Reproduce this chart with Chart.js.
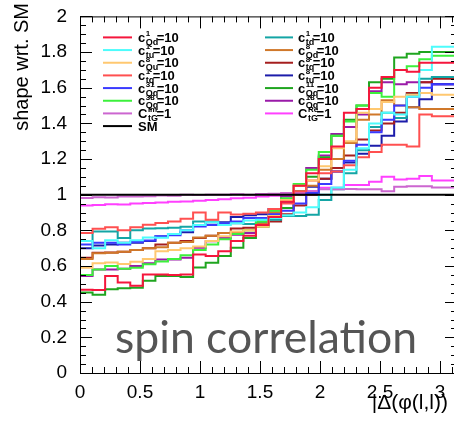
<!DOCTYPE html>
<html>
<head>
<meta charset="utf-8">
<script src="https://cdn.jsdelivr.net/npm/chart.js@4.4.0/dist/chart.umd.min.js"></script>
<style>
  html, body { margin: 0; padding: 0; background: #fff; overflow: hidden; }
</style>
</head>
<body>
<canvas id="chart" width="462" height="426"></canvas>
<script>
// 30 bins in |delta phi(l,l)| from 0 to pi
const nBins = 30;
const phiEdges = Array.from({ length: nBins + 1 }, (_, i) => i * Math.PI / nBins);

const xTickValues = [0, 0.5, 1, 1.5, 2, 2.5, 3];
const yTickValues = [0, 0.2, 0.4, 0.6, 0.8, 1, 1.2, 1.4, 1.6, 1.8, 2];

// ratio to SM, read bin by bin off the plot
const c1Qd = [0.48, 0.467, 0.465, 0.544, 0.507, 0.489, 0.552, 0.552, 0.55, 0.553, 0.665, 0.656, 0.683, 0.74, 0.77, 0.83, 0.875, 0.96, 1.05, 1.12, 1.2, 1.27, 1.46, 1.48, 1.6, 1.66, 1.7, 1.69, 1.74, 1.74];
const c1tu = [0.763, 0.74, 0.70, 0.745, 0.73, 0.745, 0.76, 0.758, 0.78, 0.8, 0.83, 0.845, 0.83, 0.84, 0.855, 0.86, 0.87, 0.885, 0.9, 0.93, 1.0, 1.04, 1.14, 1.26, 1.4, 1.46, 1.45, 1.55, 1.7, 1.83];
const c8Qu = [0.594, 0.59, 0.615, 0.62, 0.612, 0.624, 0.64, 0.683, 0.69, 0.7, 0.71, 0.74, 0.767, 0.794, 0.80, 0.82, 0.88, 0.97, 1.05, 1.08, 1.16, 1.26, 1.30, 1.46, 1.48, 1.52, 1.55, 1.56, 1.57, 1.56];
const c1tq = [0.798, 0.785, 0.809, 0.817, 0.80, 0.817, 0.831, 0.841, 0.85, 0.865, 0.90, 0.86, 0.90, 0.889, 0.893, 0.9, 0.92, 0.95, 1.02, 1.08, 1.12, 1.13, 1.165, 1.21, 1.24, 1.28, 1.28, 1.27, 1.45, 1.44];
const c31Qq = [0.724, 0.72, 0.73, 0.73, 0.72, 0.735, 0.743, 0.767, 0.772, 0.80, 0.822, 0.83, 0.84, 0.85, 0.87, 0.87, 0.89, 0.91, 0.95, 1.01, 1.06, 1.13, 1.19, 1.28, 1.35, 1.42, 1.50, 1.55, 1.60, 1.62];
const c38Qq = [0.563, 0.55, 0.58, 0.60, 0.585, 0.59, 0.61, 0.625, 0.64, 0.66, 0.69, 0.72, 0.75, 0.78, 0.80, 0.85, 0.91, 0.98, 1.06, 1.14, 1.24, 1.33, 1.41, 1.50, 1.57, 1.55, 1.70, 1.72, 1.76, 1.78];
const cImtG = [0.98, 0.982, 0.985, 0.984, 0.99, 0.99, 0.992, 0.995, 0.994, 1.0, 0.998, 1.0, 1.0, 1.002, 1.0, 1.004, 1.005, 1.01, 1.012, 1.02, 1.03, 1.03, 1.032, 1.03, 1.03, 1.02, 1.045, 1.048, 1.048, 1.04];
const sm = [1, 1, 1, 1, 1, 1, 1, 1, 1, 1, 1, 1, 1, 1, 1, 1, 1, 1, 1, 1, 1, 1, 1, 1, 1, 1, 1, 1, 1, 1];
const c1td = [0.757, 0.74, 0.794, 0.794, 0.757, 0.80, 0.81, 0.812, 0.815, 0.82, 0.85, 0.85, 0.84, 0.84, 0.835, 0.85, 0.86, 0.88, 0.88, 0.887, 0.97, 1.03, 1.12, 1.25, 1.38, 1.46, 1.43, 1.56, 1.65, 1.66];
const c8Qd = [0.645, 0.64, 0.672, 0.675, 0.68, 0.69, 0.70, 0.705, 0.73, 0.735, 0.76, 0.77, 0.785, 0.79, 0.80, 0.84, 0.90, 0.97, 1.0, 1.05, 1.14, 1.20, 1.29, 1.42, 1.45, 1.53, 1.50, 1.49, 1.48, 1.48];
const c8tq = [0.65, 0.646, 0.674, 0.676, 0.68, 0.69, 0.70, 0.72, 0.73, 0.74, 0.757, 0.77, 0.785, 0.81, 0.815, 0.83, 0.85, 0.89, 0.94, 1.0, 1.09, 1.15, 1.22, 1.31, 1.36, 1.40, 1.46, 1.57, 1.63, 1.65];
const c8tu = [0.715, 0.70, 0.715, 0.72, 0.73, 0.73, 0.74, 0.765, 0.78, 0.79, 0.83, 0.845, 0.845, 0.875, 0.885, 0.89, 0.92, 0.96, 1.0, 1.044, 1.09, 1.13, 1.18, 1.23, 1.275, 1.33, 1.41, 1.49, 1.535, 1.62];
const c11Qq = [0.439, 0.452, 0.439, 0.47, 0.476, 0.478, 0.517, 0.544, 0.544, 0.539, 0.591, 0.619, 0.656, 0.702, 0.757, 0.82, 0.887, 0.925, 1.02, 1.10, 1.21, 1.33, 1.42, 1.50, 1.63, 1.65, 1.77, 1.79, 1.80, 1.80];
const c18Qq = [0.556, 0.544, 0.581, 0.581, 0.585, 0.60, 0.615, 0.637, 0.637, 0.646, 0.702, 0.739, 0.757, 0.776, 0.785, 0.84, 0.90, 0.99, 1.05, 1.15, 1.22, 1.34, 1.38, 1.45, 1.58, 1.63, 1.62, 1.63, 1.63, 1.62];
const cRetG = [0.937, 0.94, 0.942, 0.946, 0.945, 0.95, 0.953, 0.956, 0.96, 0.962, 0.966, 0.97, 0.974, 0.98, 0.983, 0.99, 0.994, 1.0, 1.01, 1.02, 1.039, 1.039, 1.054, 1.054, 1.072, 1.10, 1.085, 1.09, 1.105, 1.08];

// legend entries: [values, colour, main, sup, sub, tail]
const leftLegend = [
    [c1Qd, "#f5163c", "c", "1", "Qd", "=10"],
    [c1tu, "#4dfcfc", "c", "1", "tu", "=10"],
    [c8Qu, "#ffc870", "c", "8", "Qu", "=10"],
    [c1tq, "#ff5050", "c", "1", "tq", "=10"],
    [c31Qq, "#3a3aff", "c", "31", "Qq", "=10"],
    [c38Qq, "#3cf03c", "c", "38", "Qq", "=10"],
    [cImtG, "#cc66d0", "C", "Im", "tG", "=1"],
    [sm, "#000000", "SM", "", "", ""],
];
const rightLegend = [
    [c1td, "#14a5a5", "c", "1", "td", "=10"],
    [c8Qd, "#d0782a", "c", "8", "Qd", "=10"],
    [c8tq, "#a51e1e", "c", "8", "tq", "=10"],
    [c8tu, "#1c1caa", "c", "8", "tu", "=10"],
    [c11Qq, "#1fa51f", "c", "11", "Qq", "=10"],
    [c18Qq, "#9a1aa8", "c", "18", "Qq", "=10"],
    [cRetG, "#ff40ff", "C", "Re", "tG", "=1"],
];

const toPoints = (vals) => {
    const pts = vals.map((v, i) => ({ x: phiEdges[i], y: v }));
    pts.push({ x: phiEdges[nBins], y: vals[vals.length - 1] });
    return pts;
};

const allEntries = leftLegend.concat(rightLegend);
// SM first so it is painted last (on top)
const ordered = [allEntries[7]].concat(allEntries.filter((e, i) => i !== 7));
const datasets = ordered.map((e) => ({
    data: toPoints(e[0]),
    borderColor: e[1],
    borderWidth: 2,
    stepped: "after",
    pointRadius: 0,
    fill: false,
}));

const FONT = "'Liberation Sans', Arial, sans-serif";

// c^{sup}_{sub}=tail, the way ROOT squashed it
const drawLabel = (ctx, x, yMid, e) => {
    ctx.fillStyle = "#000";
    ctx.textAlign = "left";
    ctx.textBaseline = "alphabetic";
    ctx.font = "bold 13px " + FONT;
    ctx.fillText(e[2], x, yMid + 4.5);
    let w = ctx.measureText(e[2]).width;
    if (e[3] || e[4]) {
        ctx.font = "bold 8px " + FONT;
        ctx.fillText(e[3], x + w + 0.5, yMid - 1);
        const ws = ctx.measureText(e[3]).width;
        ctx.font = "bold 9px " + FONT;
        ctx.fillText(e[4], x + w + 0.5, yMid + 7.5);
        const wb = ctx.measureText(e[4]).width;
        w += Math.max(ws, wb) - 1;
    }
    ctx.font = "bold 13px " + FONT;
    ctx.fillText(e[5], x + w, yMid + 4.5);
};

const rootDecor = {
    id: "rootDecor",
    afterDraw(chart) {
        const { ctx, chartArea: a, scales } = chart;
        const x = scales.x, y = scales.y;
        ctx.save();

        // frame
        ctx.strokeStyle = "#000";
        ctx.lineWidth = 1;
        ctx.strokeRect(a.left + 0.5, a.top + 0.5, a.right - a.left - 1, a.bottom - a.top);

        // inward ticks on all four sides
        ctx.beginPath();
        for (let i = 0; i * 0.1 <= Math.PI; i++) {
            const px = Math.round(x.getPixelForValue(i * 0.1)) + 0.5;
            const len = i % 5 === 0 ? 12 : 6;
            ctx.moveTo(px, a.bottom); ctx.lineTo(px, a.bottom - len);
            ctx.moveTo(px, a.top); ctx.lineTo(px, a.top + len);
        }
        for (let i = 0; i <= 40; i++) {
            const py = Math.round(y.getPixelForValue(i * 0.05)) + 0.5;
            const len = i % 4 === 0 ? 12 : 6;
            ctx.moveTo(a.left, py); ctx.lineTo(a.left + len, py);
            ctx.moveTo(a.right, py); ctx.lineTo(a.right - len, py);
        }
        ctx.stroke();

        // legend, two columns
        const rowH = 12.67;
        leftLegend.forEach((e, k) => {
            const yy = a.top + 21 + k * rowH;
            ctx.strokeStyle = e[1];
            ctx.lineWidth = 2;
            ctx.beginPath(); ctx.moveTo(a.left + 23, yy); ctx.lineTo(a.left + 52, yy); ctx.stroke();
            drawLabel(ctx, a.left + 58, yy, e);
        });
        rightLegend.forEach((e, k) => {
            const yy = a.top + 21 + k * rowH;
            ctx.strokeStyle = e[1];
            ctx.lineWidth = 2;
            ctx.beginPath(); ctx.moveTo(a.left + 185, yy); ctx.lineTo(a.left + 213, yy); ctx.stroke();
            drawLabel(ctx, a.left + 218, yy, e);
        });

        // axis titles
        ctx.fillStyle = "#000";
        ctx.font = "20px " + FONT;
        ctx.textBaseline = "alphabetic";
        ctx.save();
        ctx.translate(28, 3);
        ctx.rotate(-Math.PI / 2);
        ctx.textAlign = "right";
        ctx.fillText("shape wrt. SM", 0, 0);
        ctx.restore();

        ctx.font = "21px " + FONT;
        ctx.textAlign = "right";
        ctx.fillText("|\u0394(\u03c6(l,l))", 448, 409);

        // big grey caption
        ctx.font = "100px Lato";
        const w100 = ctx.measureText("spin correlation").width;
        const size = 100 * 302 / w100;
        ctx.font = size.toFixed(1) + "px Lato";
        ctx.fillStyle = "#555555";
        ctx.textAlign = "left";
        ctx.fillText("spin correlation", 115, 353);

        ctx.restore();
    }
};

new Chart(document.getElementById("chart"), {
    type: "line",
    data: { datasets: datasets },
    options: {
        responsive: false,
        animation: false,
        layout: { padding: { top: 13, right: 5, left: 0, bottom: 0 } },
        plugins: { legend: { display: false }, tooltip: { enabled: false } },
        scales: {
            x: {
                type: "linear",
                min: 0,
                max: Math.PI,
                afterFit: (s) => { s.height = 53; },
                afterBuildTicks: (s) => { s.ticks = xTickValues.map((v) => ({ value: v })); },
                grid: { display: false },
                border: { display: false },
                ticks: {
                    autoSkip: false,
                    maxRotation: 0,
                    padding: 0,
                    color: "#000",
                    font: { family: FONT, size: 19 },
                    callback: (v) => String(v),
                },
            },
            y: {
                type: "linear",
                min: 0,
                max: 2,
                afterFit: (s) => { s.width = 80; },
                afterBuildTicks: (s) => { s.ticks = yTickValues.map((v) => ({ value: v })); },
                grid: { display: false },
                border: { display: false },
                ticks: {
                    padding: 5,
                    color: "#000",
                    font: { family: FONT, size: 19 },
                    callback: (v) => String(Math.round(v * 10) / 10),
                },
            },
        },
    },
    plugins: [rootDecor],
});
</script>
</body>
</html>
